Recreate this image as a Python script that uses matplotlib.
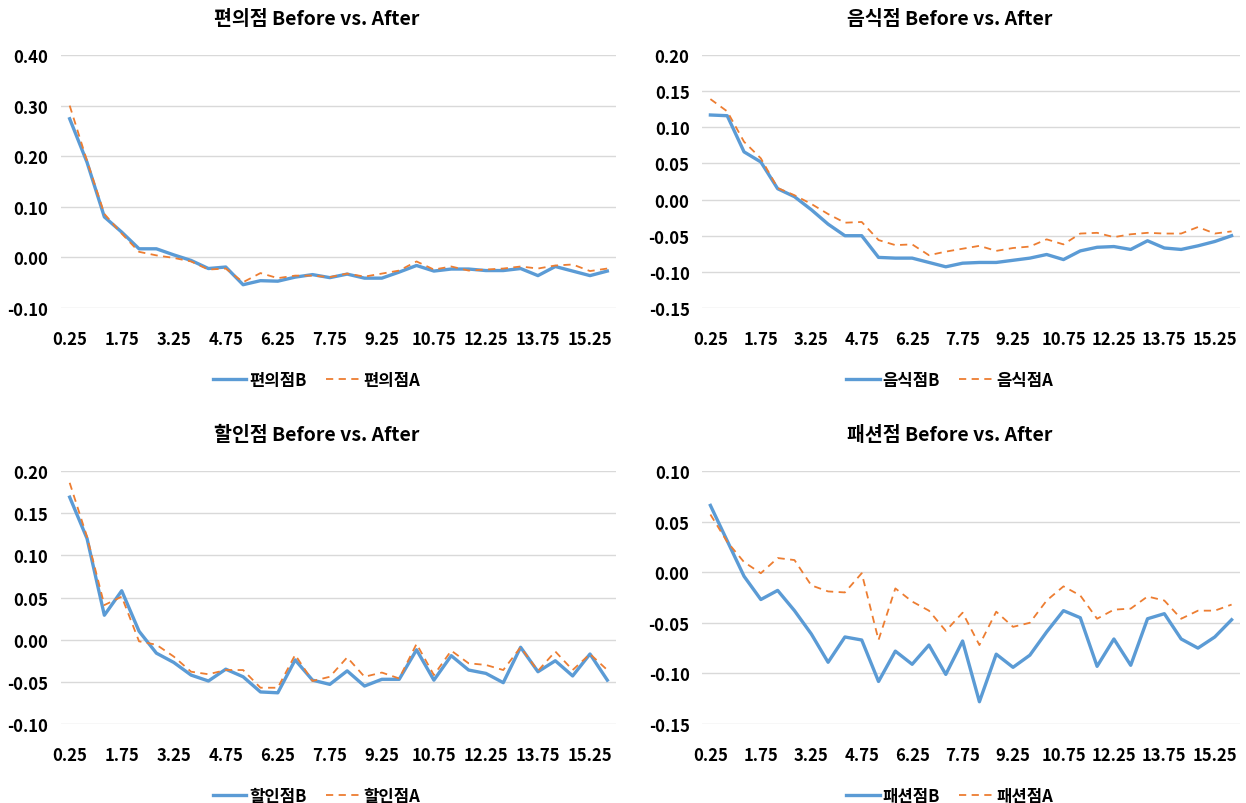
import matplotlib
matplotlib.use("Agg")
import matplotlib.pyplot as plt
import numpy as np

plt.rcParams['font.family'] = ['Noto Sans CJK KR', 'DejaVu Sans']
plt.rcParams['font.weight'] = 'bold'

# 가로축 카테고리 (0.25 ~ 15.75, 0.5 간격)
categories = ["0.25", "0.75", "1.25", "1.75", "2.25", "2.75", "3.25", "3.75",
              "4.25", "4.75", "5.25", "5.75", "6.25", "6.75", "7.25", "7.75",
              "8.25", "8.75", "9.25", "9.75", "10.25", "10.75", "11.25", "11.75",
              "12.25", "12.75", "13.25", "13.75", "14.25", "14.75", "15.25", "15.75"]

# 편의점
conv_before = [0.274, 0.188, 0.080, 0.050, 0.017, 0.017, 0.005, -0.006,
               -0.022, -0.019, -0.054, -0.046, -0.047, -0.039, -0.034, -0.040,
               -0.033, -0.041, -0.041, -0.029, -0.016, -0.027, -0.023, -0.023,
               -0.026, -0.026, -0.022, -0.036, -0.018, -0.027, -0.036, -0.027]
conv_after = [0.300, 0.191, 0.086, 0.047, 0.011, 0.004, -0.001, -0.008,
              -0.024, -0.022, -0.049, -0.031, -0.041, -0.036, -0.036, -0.039,
              -0.032, -0.038, -0.032, -0.026, -0.008, -0.024, -0.018, -0.026,
              -0.024, -0.022, -0.018, -0.022, -0.016, -0.014, -0.027, -0.022]

# 음식점
food_before = [0.117, 0.116, 0.066, 0.052, 0.015, 0.004, -0.014, -0.034,
               -0.050, -0.050, -0.080, -0.081, -0.081, -0.087, -0.093, -0.088,
               -0.087, -0.087, -0.084, -0.081, -0.076, -0.083, -0.071, -0.066,
               -0.065, -0.069, -0.057, -0.067, -0.069, -0.064, -0.058, -0.050]
food_after = [0.139, 0.122, 0.080, 0.057, 0.016, 0.006, -0.006, -0.020,
              -0.032, -0.031, -0.056, -0.063, -0.062, -0.077, -0.072, -0.068,
              -0.064, -0.071, -0.067, -0.065, -0.055, -0.062, -0.047, -0.046,
              -0.052, -0.048, -0.046, -0.047, -0.047, -0.038, -0.047, -0.044]

# 할인점
disc_before = [0.169, 0.120, 0.029, 0.058, 0.010, -0.016, -0.027, -0.042,
               -0.049, -0.035, -0.044, -0.062, -0.063, -0.024, -0.048, -0.053,
               -0.037, -0.055, -0.047, -0.047, -0.012, -0.048, -0.019, -0.036,
               -0.040, -0.051, -0.009, -0.038, -0.025, -0.043, -0.017, -0.048]
disc_after = [0.186, 0.122, 0.041, 0.051, -0.002, -0.006, -0.020, -0.038,
              -0.041, -0.036, -0.036, -0.057, -0.057, -0.018, -0.049, -0.044,
              -0.021, -0.044, -0.039, -0.046, -0.005, -0.042, -0.013, -0.028,
              -0.030, -0.036, -0.009, -0.037, -0.014, -0.036, -0.017, -0.036]

# 패션점
fash_before = [0.066, 0.031, -0.004, -0.027, -0.018, -0.038, -0.061, -0.089,
               -0.064, -0.067, -0.108, -0.078, -0.091, -0.072, -0.101, -0.068,
               -0.128, -0.081, -0.094, -0.082, -0.059, -0.038, -0.045, -0.093,
               -0.066, -0.092, -0.046, -0.041, -0.066, -0.075, -0.064, -0.047]
fash_after = [0.057, 0.030, 0.010, -0.001, 0.014, 0.012, -0.013, -0.019,
              -0.020, -0.001, -0.067, -0.016, -0.029, -0.038, -0.058, -0.040,
              -0.072, -0.039, -0.054, -0.050, -0.028, -0.014, -0.023, -0.046,
              -0.037, -0.036, -0.024, -0.028, -0.046, -0.038, -0.038, -0.032]

BLUE = "#5B9BD5"
ORANGE = "#ED7D31"

panels = [
    ("편의점", conv_before, conv_after, (-0.10, 0.40), 0.10, [61, 56, 555, 253]),
    ("음식점", food_before, food_after, (-0.15, 0.20), 0.05, [702, 56, 538, 253]),
    ("할인점", disc_before, disc_after, (-0.10, 0.20), 0.05, [61, 472, 555, 253]),
    ("패션점", fash_before, fash_after, (-0.15, 0.10), 0.05, [702, 472, 538, 253]),
]

W, H = 1246, 804
fig = plt.figure(figsize=(W / 100, H / 100), dpi=100)

for name, before, after, ylim, step, (l, t, w, h) in panels:
    ax = fig.add_axes([l / W, 1 - (t + h) / H, w / W, h / H])
    x = np.arange(len(categories))
    ax.plot(x, before, color=BLUE, lw=2.4, label=f"{name}B", solid_joinstyle="round")
    ax.plot(x, after, color=ORANGE, lw=1.3, ls=(0, (4, 3)), label=f"{name}A")
    ax.set_xlim(-0.5, len(categories) - 0.5)
    ax.set_ylim(*ylim)
    yt = np.arange(ylim[0], ylim[1] + step / 2, step)
    ax.set_yticks(yt)
    ax.set_yticklabels([f"{v:.2f}" for v in yt])
    ax.set_xticks(x[::3])
    ax.set_xticklabels(categories[::3])
    ax.tick_params(length=0, labelsize=12)
    ax.tick_params(axis="y", pad=9)
    ax.tick_params(axis="x", pad=16)
    for s in ax.spines.values():
        s.set_visible(False)
    ax.grid(axis="y", color="#D9D9D9", lw=1)
    ax.set_axisbelow(True)
    ax.set_title(f"{name} Before vs. After", fontsize=14, fontweight="bold",
                 x=0.46, pad=22)
    ax.legend(loc="upper center", bbox_to_anchor=(0.46, -0.19), ncol=2, frameon=False,
              fontsize=12, handlelength=2.0, columnspacing=1.15, handletextpad=0.2)

fig.savefig("out.png", dpi=100)
